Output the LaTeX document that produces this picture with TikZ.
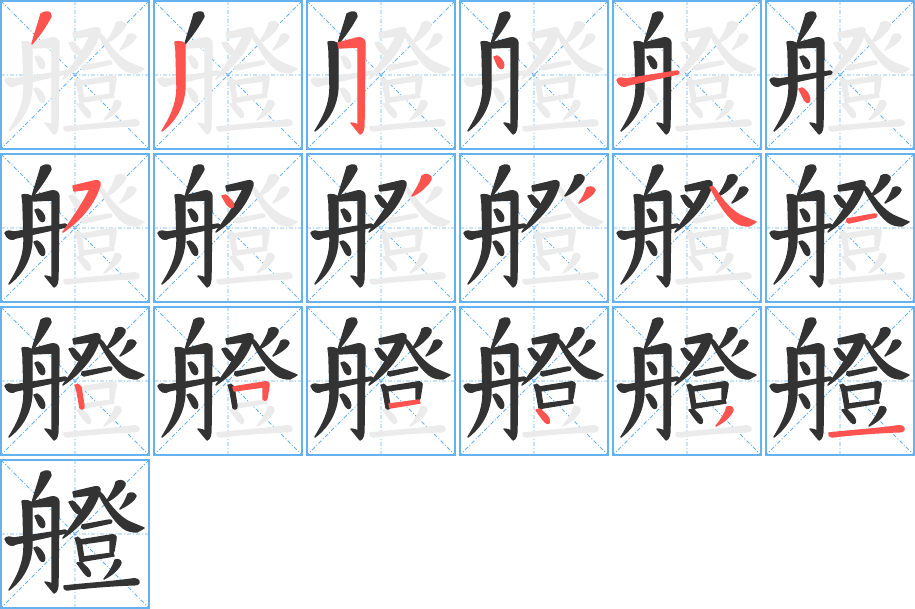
\documentclass[tikz,border=0pt]{standalone}
\usepackage{xcolor}
\usepackage{tikz}

\definecolor{gridblue}{RGB}{102,178,240}
\definecolor{inkgrey}{RGB}{235,235,235}
\definecolor{inkblack}{RGB}{51,51,51}
\definecolor{inkred}{RGB}{255,83,80}

\tikzset{
  cellbox/.style={draw=gridblue, line width=1.6pt},
  guide/.style={draw=gridblue, line width=0.9pt, dash pattern=on 4pt off 2pt on 1pt off 2pt},
  brush/.style={draw=#1, fill=#1, line width=1.4pt, line join=round},
}

\newcommand{\bihua}[2]{%
  \ifcase#1\or
    \def\bhpath{(40,13) .. controls (43,11) and (47,10) .. (49,12) .. controls (51,14) and (50,16) .. (48,19) .. controls (43,28) and (37,36) .. (31,43) .. controls (33,35) and (37,24) .. (40,13) -- cycle}%
  \or
    \def\bhpath{(21,41) .. controls (25,40) and (29,41) .. (31,43) -- (31,86) .. controls (30,106) and (21,120) .. (8,130) .. controls (16,117) and (23,104) .. (23,86) -- (22,50) .. controls (22,46) and (21,44) .. (21,41) -- cycle}%
  \or
    \def\bhpath{(31,42) -- (50,37) .. controls (54,36) and (58,38) .. (58,42) -- (57,122) .. controls (57,128) and (56,132) .. (53,133) -- (44,122) .. controls (47,122) and (49,123) .. (51,124) -- (51,46) -- (32,47) -- cycle}%
  \or
    \def\bhpath{(34,56) .. controls (36,54) and (38,55) .. (40,57) .. controls (43,60) and (45,64) .. (43,67) .. controls (41,69) and (38,66) .. (37,63) -- cycle}%
  \or
    \def\bhpath{(4,79) .. controls (6,76) and (10,77) .. (13,78) -- (64,70) .. controls (66,70) and (67,72) .. (65,73) -- (15,84) .. controls (11,87) and (6,85) .. (4,79) -- cycle}%
  \or
    \def\bhpath{(33,88) .. controls (35,86) and (37,87) .. (39,89) .. controls (43,93) and (45,98) .. (43,101) .. controls (41,103) and (38,99) .. (37,96) -- cycle}%
  \or
    \def\bhpath{(72,32) -- (93,27) .. controls (96,26) and (100,27) .. (99,31) .. controls (94,49) and (80,66) .. (62,78) .. controls (72,64) and (83,48) .. (89,35) -- (73,37) -- cycle}%
  \or
    \def\bhpath{(68,42) .. controls (70,40) and (73,41) .. (75,44) .. controls (78,47) and (81,50) .. (79,53) .. controls (77,55) and (74,52) .. (72,49) -- cycle}%
  \or
    \def\bhpath{(115,22) .. controls (118,20) and (122,20) .. (124,23) .. controls (125,26) and (121,30) .. (118,33) .. controls (114,37) and (110,40) .. (105,42) .. controls (109,36) and (114,28) .. (115,22) -- cycle}%
  \or
    \def\bhpath{(127,34) .. controls (130,32) and (134,33) .. (135,36) .. controls (134,40) and (127,45) .. (119,49) .. controls (122,45) and (125,40) .. (127,34) -- cycle}%
  \or
    \def\bhpath{(97,33) .. controls (99,32) and (101,33) .. (102,35) .. controls (110,47) and (120,59) .. (131,63) -- (143,68) -- (136,72) .. controls (131,72) and (126,71) .. (122,68) .. controls (112,60) and (104,46) .. (97,33) -- cycle}%
  \or
    \def\bhpath{(81,65) -- (108,60) .. controls (110,59) and (112,61) .. (110,63) -- (83,69) .. controls (81,69) and (80,67) .. (81,65) -- cycle}%
  \or
    \def\bhpath{(74,78) .. controls (76,77) and (79,78) .. (80,80) -- (83,99) .. controls (83,102) and (81,103) .. (79,101) -- (76,84) -- cycle}%
  \or
    \def\bhpath{(79,80) -- (110,75) .. controls (113,74) and (116,76) .. (115,79) -- (113,91) .. controls (112,94) and (110,94) .. (109,92) -- (109,80) -- (80,84) -- cycle}%
  \or
    \def\bhpath{(82,97) -- (112,93) -- (113,96) -- (83,101) -- cycle}%
  \or
    \def\bhpath{(76,103) .. controls (78,101) and (81,102) .. (83,105) .. controls (87,108) and (91,113) .. (89,116) .. controls (87,118) and (84,114) .. (81,110) -- cycle}%
  \or
    \def\bhpath{(114,100) .. controls (117,99) and (120,100) .. (120,103) .. controls (118,109) and (111,115) .. (103,119) .. controls (108,113) and (112,107) .. (114,100) -- cycle}%
  \or
    \def\bhpath{(63,126) .. controls (80,124) and (110,122) .. (131,119) .. controls (135,118) and (139,120) .. (138,123) .. controls (137,125) and (133,125) .. (128,125) .. controls (105,126) and (82,128) .. (66,130) .. controls (64,130) and (62,128) .. (63,126) -- cycle}%
  \fi
  \filldraw[brush=#2] \bhpath;}

\begin{document}
\begin{tikzpicture}[x=1pt, y=-1pt]
\useasboundingbox[fill=white] (0,0) rectangle (915,609);
\foreach \n in {1,...,19}{
  \pgfmathtruncatemacro\col{mod(\n-1,6)}
  \pgfmathtruncatemacro\row{int((\n-1)/6)}
  \begin{scope}[shift={(1+153*\col,1+153*\row)}]
    \draw[guide] (0,0) -- (148,148) (148,0) -- (0,148) (74,0) -- (74,148) (0,74) -- (148,74);
    \foreach \k in {1,...,18}{\ifnum\k<\n\else\bihua{\k}{inkgrey}\fi}
    \foreach \k in {1,...,18}{\ifnum\k<\n\bihua{\k}{inkblack}\fi}
    \ifnum\n<19 \bihua{\n}{inkred}\fi
    \draw[cellbox] (0,0) rectangle (148,148);
  \end{scope}
}
\end{tikzpicture}
\end{document}
